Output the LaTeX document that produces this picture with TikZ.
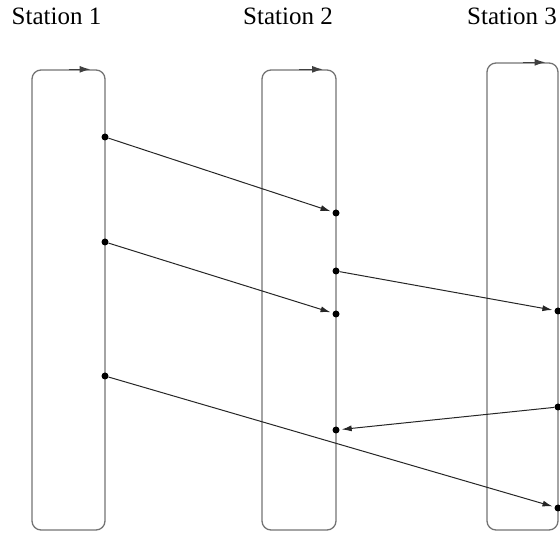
\documentclass[tikz,border=0pt]{standalone}
\usepackage{fontspec}
\setmainfont{Liberation Serif}
\usetikzlibrary{arrows.meta}
\begin{document}
\begin{tikzpicture}[x=1pt,y=-1pt,
  station/.style={draw=black!55, line width=1.3pt, rounded corners=9pt, inner sep=0pt},
  loopdir/.style={draw=black!75, line width=1.3pt, -{Latex[length=11pt,width=7pt]}},
  ev/.style={circle, fill=black, inner sep=0pt, minimum size=7pt},
  msg/.style={draw=black!85, line width=1pt, -{Latex[length=10pt,width=6pt]}, shorten >=2pt},
  lab/.style={font=\fontsize{25}{30}\selectfont, anchor=base}]
\useasboundingbox (0,0) rectangle (560,534);
% station boxes
\node[station, minimum width=73pt, minimum height=460pt] (s1) at (68.5,300) {};
\node[station, minimum width=74pt, minimum height=460pt] (s2) at (299,300) {};
\node[station, minimum width=71pt, minimum height=467pt] (s3) at (522.5,296.5) {};
% labels
\node[lab] (l1) at (56.5,25) {Station 1};
\node[lab] (l2) at (288,25) {Station 2};
\node[lab] (l3) at (512,25) {Station 3};
% direction arrows
\draw[loopdir] (s1.north) -- ([xshift=22pt]s1.north);
\draw[loopdir] (s2.north) -- ([xshift=24pt]s2.north);
\draw[loopdir] (s3.north) -- ([xshift=23pt]s3.north);
% events
\node[ev] (a1) at (105,137) {};
\node[ev] (a2) at (105,242) {};
\node[ev] (a3) at (105,376) {};
\node[ev] (b1) at (336,213) {};
\node[ev] (b2) at (336,271) {};
\node[ev] (b3) at (336,314) {};
\node[ev] (b4) at (336,430) {};
\node[ev] (c1) at (558,311) {};
\node[ev] (c2) at (558,407) {};
\node[ev] (c3) at (558,508) {};
% messages
\draw[msg] (a1) -- (b1);
\draw[msg] (a2) -- (b3);
\draw[msg] (a3) -- (c3);
\draw[msg] (b2) -- (c1);
\draw[msg] (c2) -- (b4);
\end{tikzpicture}
\end{document}
